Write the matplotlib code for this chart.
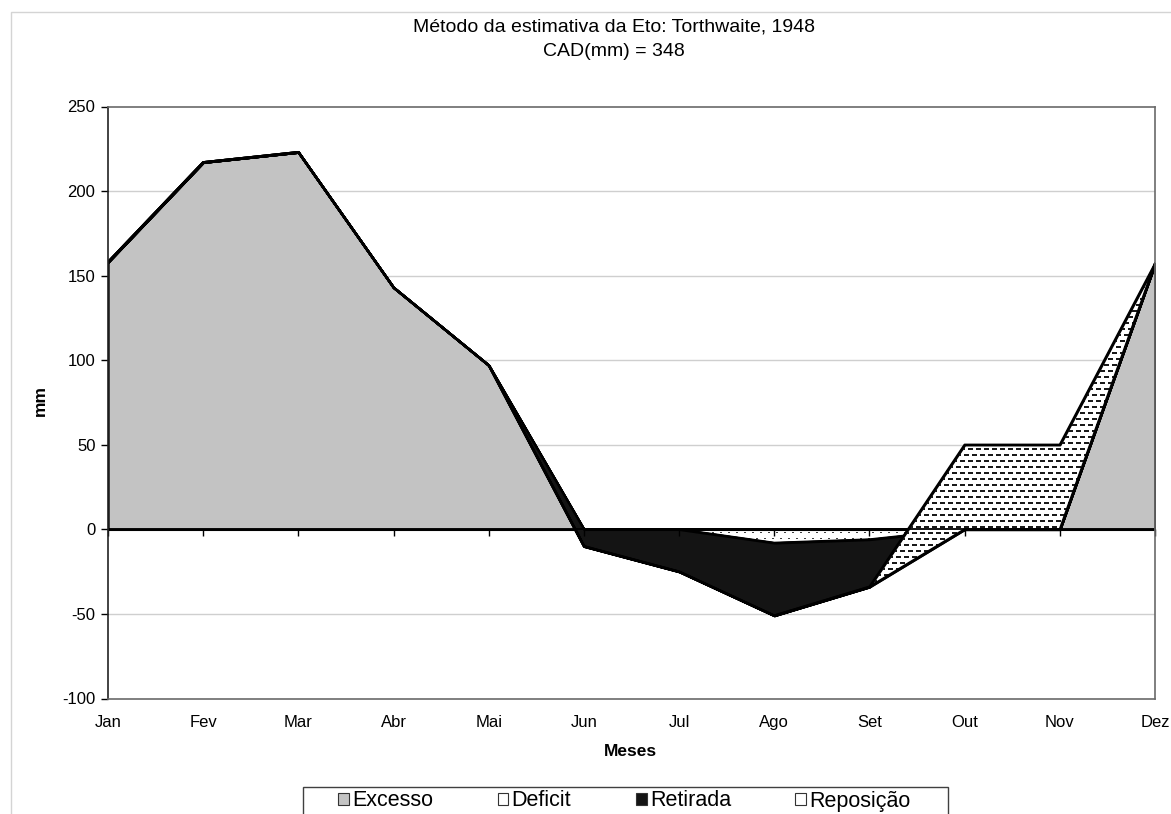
import numpy as np
import matplotlib
matplotlib.use("Agg")
import matplotlib.pyplot as plt
from matplotlib.patches import Patch, Rectangle

plt.rcParams['font.family'] = ['Liberation Sans', 'DejaVu Sans']

# Monthly water balance components (mm)
months = ['Jan', 'Fev', 'Mar', 'Abr', 'Mai', 'Jun', 'Jul', 'Ago', 'Set', 'Out', 'Nov', 'Dez']
excesso = [158, 217, 223, 143, 97, 0, 0, 0, 0, 0, 0, 157]
deficit = [0, 0, 0, 0, 0, 0, 0, -8, -6, 0, 0, 0]
retirada = [0, 0, 0, 0, 0, -10, -25, -43, -28, 0, 0, 0]
reposicao = [0, 0, 0, 0, 0, 0, 0, 0, 0, 50, 50, 0]
series_names = ['Excesso', 'Deficit', 'Retirada', 'Reposição']
yticks = [-100, -50, 0, 50, 100, 150, 200, 250]

W, H, DPI = 1171, 814, 100
fig = plt.figure(figsize=(W / DPI, H / DPI), dpi=DPI)
left, right, top, bottom = 108 / W, 1155 / W, 1 - 106.5 / H, 1 - 698.5 / H
ax = fig.add_axes([left, bottom, right - left, top - bottom])

x = np.arange(len(months))
xlim = (0, len(months) - 1)
ylim = (yticks[0], yticks[-1])

# stacked cumulative boundaries (Excel-like stacked area)
c0 = np.zeros(len(months))
c1 = c0 + np.array(excesso, float)
c2 = c1 + np.array(deficit, float)
c3 = c2 + np.array(retirada, float)
c4 = c3 + np.array(reposicao, float)

# pixel size of the plot area, used to build texture images
pw = int(round(W * (right - left)))
ph = int(round(H * (top - bottom)))


def texture(kind):
    img = np.zeros((ph, pw, 4))
    yy, xx = np.mgrid[0:ph, 0:pw]
    row = yy // 6
    if kind == 'dash':
        on = (yy % 6 < 2) & (((xx + (row % 2) * 4) % 8) < 5)
        col = 0.1
    else:
        on = (yy % 6 == 0) & (((xx + (row % 2) * 4) % 8) < 2)
        col = 0.25
    img[on] = [col, col, col, 1.0]
    return img


edge = dict(edgecolor='black', linewidth=1.7)
ax.fill_between(x, c0, c1, facecolor='#c3c3c3', zorder=2, **edge)
p_def = ax.fill_between(x, c1, c2, facecolor='white', zorder=3, **edge)
ax.fill_between(x, c2, c3, facecolor='#141414', zorder=4, **edge)
p_rep = ax.fill_between(x, c3, c4, facecolor='white', zorder=5, **edge)

for poly, kind, z in [(p_def, 'dot', 3.5), (p_rep, 'dash', 5.5)]:
    im = ax.imshow(texture(kind), extent=(xlim[0], xlim[1], ylim[0], ylim[1]),
                   origin='upper', aspect='auto', interpolation='nearest', zorder=z)
    im.set_clip_path(poly.get_paths()[0], transform=ax.transData)

# redraw the outlines of the textured bands above their textures
for lo, hi, z in [(c1, c2, 3.6), (c3, c4, 5.6)]:
    ax.plot(x, lo, color='black', lw=1.7, zorder=z)
    ax.plot(x, hi, color='black', lw=1.7, zorder=z)

ax.set_xlim(*xlim)
ax.set_ylim(*ylim)

# horizontal gridlines and category axis crossing at zero
for v in yticks[1:-1]:
    if v != 0:
        ax.axhline(v, color='#cfcfcf', lw=1.0, zorder=1)
ax.axhline(0, color='black', lw=1.3, zorder=6)
ax.plot(x, np.zeros(len(months)), linestyle='none', marker=3, markersize=5,
        color='black', markeredgewidth=1.0, zorder=6, clip_on=False)

ax.set_yticks(yticks)
ax.set_yticklabels([str(v) for v in yticks])
ax.tick_params(axis='y', direction='out', length=5, width=1, pad=4,
               labelsize=12, colors='black')
ax.set_xticks(x)
ax.set_xticklabels(months)
ax.tick_params(axis='x', length=0, pad=12, labelsize=12)

for side in ['top', 'right', 'bottom']:
    ax.spines[side].set_color('#6a6a6a')
    ax.spines[side].set_linewidth(1.2)
ax.spines['left'].set_color('#222222')
ax.spines['left'].set_linewidth(1.2)
for s in ax.spines.values():
    s.set_zorder(7)

fig.text(40 / W, 1 - 400 / H, 'mm', rotation=90, ha='center', va='center',
         fontsize=12.5, fontweight='bold')
fig.text(630 / W, 1 - 752 / H, 'Meses', ha='center', va='center',
         fontsize=12.5, fontweight='bold')
fig.text(614 / W, 1 - 27 / H, 'Método da estimativa da Eto: Torthwaite, 1948',
         ha='center', va='center', fontsize=14)
fig.text(614 / W, 1 - 52 / H, 'CAD(mm) = 348', ha='center', va='center', fontsize=14)

# light chart border
fig.add_artist(Rectangle((11 / W, -0.01), 1.0, 1 - 12 / H + 0.01, transform=fig.transFigure,
                         fill=False, edgecolor='#d4d4d4', lw=1.0))

# legend box spanning below the plot
fig.add_artist(Rectangle((303 / W, -0.01), (948 - 303) / W, 1 - 787 / H + 0.01,
                         transform=fig.transFigure, fill=False, edgecolor='#404040', lw=1.0))

handles = [
    Patch(facecolor='#c3c3c3', edgecolor='#333333', lw=0.8),
    Patch(facecolor='white', edgecolor='#333333', lw=0.8),
    Patch(facecolor='#141414', edgecolor='#333333', lw=0.8),
    Patch(facecolor='white', edgecolor='#333333', lw=0.8),
]
leg = fig.legend(handles, series_names, loc='center left', ncol=4,
                 bbox_to_anchor=(338 / W, 1 - 801 / H),
                 bbox_transform=fig.transFigure, borderaxespad=0,
                 fontsize=15.5, frameon=False,
                 handlelength=0.5, handleheight=0.5, handletextpad=0.15,
                 borderpad=0.0, columnspacing=3.0)

fig.savefig('out.png', dpi=DPI)
